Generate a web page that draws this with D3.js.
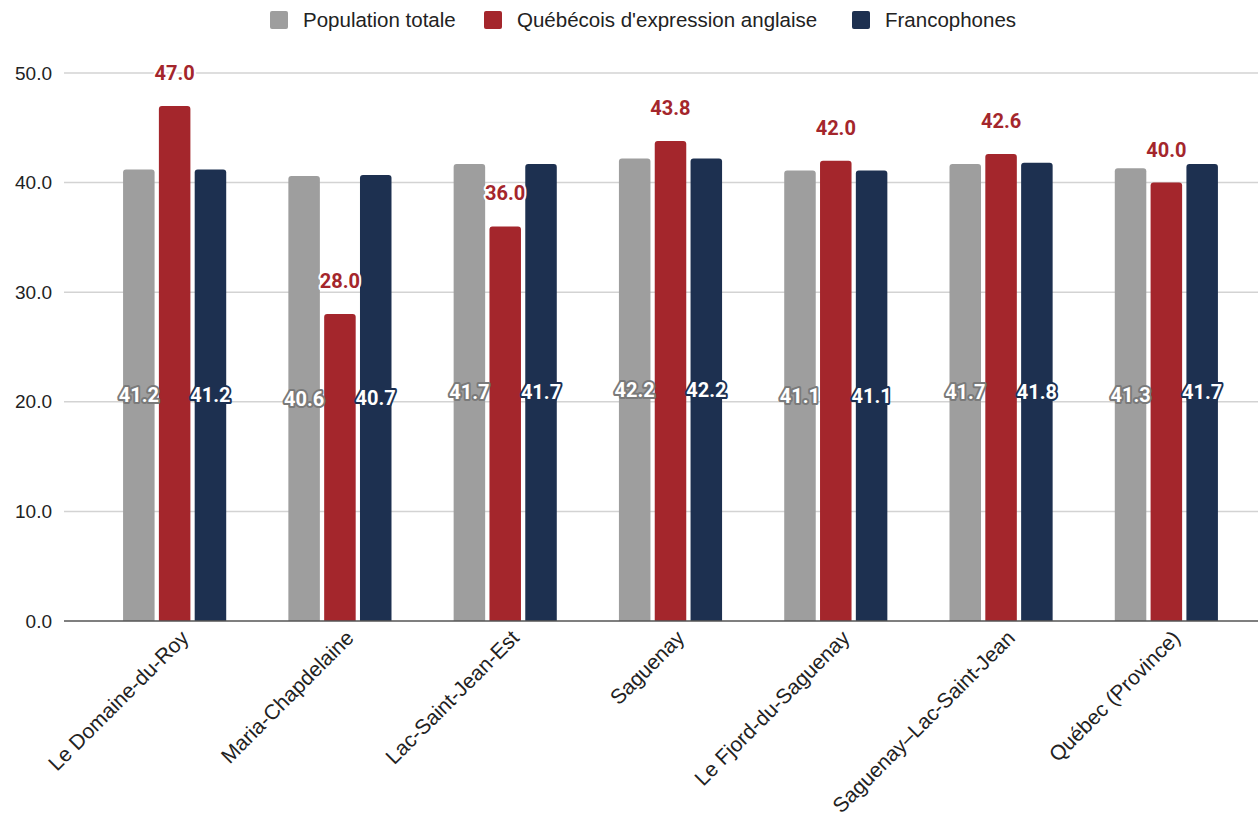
<!DOCTYPE html>
<html><head><meta charset="utf-8">
<script src="https://cdn.jsdelivr.net/npm/d3@7"></script>
<style>body{margin:0;background:#fff}svg{display:block}</style>
</head><body>
<svg id="c" width="1258" height="816"></svg>
<script>
const categories = ["Le Domaine-du-Roy","Maria-Chapdelaine","Lac-Saint-Jean-Est","Saguenay","Le Fjord-du-Saguenay","Saguenay–Lac-Saint-Jean","Québec (Province)"];
const seriesNames = ["Population totale","Québécois d'expression anglaise","Francophones"];
const populationTotale = [41.2,40.6,41.7,42.2,41.1,41.7,41.3];
const anglophones = [47.0,28.0,36.0,43.8,42.0,42.6,40.0];
const francophones = [41.2,40.7,41.7,42.2,41.1,41.8,41.7];
const yTicks = [0,10,20,30,40,50];
const colors = ["#9e9e9e","#a4262c","#1d3050"];

const series = [populationTotale, anglophones, francophones];
const svg = d3.select("#c");
const font = "'Liberation Sans', Arial, sans-serif";
const lblFont = "Roboto, sans-serif";
const y = d3.scaleLinear().domain([0,50]).range([621,73]);
const x0 = d3.scaleBand().domain(categories).range([92,1249]).paddingInner(0.376).paddingOuter(0.188);
const x1 = d3.scaleBand().domain(d3.range(3)).range([0,x0.bandwidth()]).paddingInner(0.12);

// grid
svg.append("g").selectAll("line").data(yTicks.filter(d=>d>0)).join("line")
  .attr("x1",64).attr("x2",1258).attr("y1",d=>y(d)).attr("y2",d=>y(d))
  .attr("stroke","#d3d3d3").attr("stroke-width",1.5);
const yAxis = svg.append("g").attr("transform","translate(64,0)")
  .call(d3.axisLeft(y).tickValues(yTicks).tickFormat(d3.format(".1f")).tickSize(0).tickPadding(12));
yAxis.select(".domain").remove();
yAxis.attr("font-family",null).attr("font-size",null);
yAxis.selectAll("text").style("font-family",font).style("font-size","19px").attr("fill","#222");

// bars
const groups = svg.append("g").selectAll("g").data(categories).join("g")
  .attr("transform",d=>`translate(${x0(d)},0)`);
function topRounded(x,yt,w,h,r){
  r=Math.min(r,h);
  return `M${x},${yt+h}V${yt+r}Q${x},${yt} ${x+r},${yt}H${x+w-r}Q${x+w},${yt} ${x+w},${yt+r}V${yt+h}Z`;
}
groups.each(function(cat,ci){
  const g=d3.select(this);
  series.forEach((s,si)=>{
    const v=s[ci];
    g.append("path").attr("d",topRounded(x1(si),y(v),x1.bandwidth(),y(0)-y(v),3)).attr("fill",colors[si]);
  });
});
// axis line
svg.append("line").attr("x1",64).attr("x2",1258).attr("y1",y(0)).attr("y2",y(0)).attr("stroke","#555").attr("stroke-width",1.5);

// labels
const haloCol=["#7a7a7a",null,"#1d3050"];
groups.each(function(cat,ci){
  const g=d3.select(this);
  [0,2].forEach(si=>{
    const v=series[si][ci];
    const cx=x1(si)+x1.bandwidth()/2, cy=(y(v)+y(0))/2+7;
    g.append("text").attr("x",cx).attr("y",cy)
      .attr("text-anchor","middle").style("font-family",lblFont).style("font-weight","bold")
      .style("font-size","20px").attr("stroke",haloCol[si]).attr("stroke-width",4).attr("stroke-linejoin","round")
      .attr("fill","none").text(v.toFixed(1));
    g.append("text").attr("x",cx).attr("y",cy)
      .attr("text-anchor","middle").style("font-family",lblFont).style("font-weight","bold")
      .style("font-size","20px").attr("fill","#fff").text(v.toFixed(1));
  });
  const v=anglophones[ci];
  const lx=x1(1)+x1.bandwidth()/2, ly=y(v)-26;
  g.append("text").attr("x",lx).attr("y",ly).attr("text-anchor","middle").style("font-family",lblFont)
    .style("font-weight","bold").style("font-size","20px").attr("stroke","#fff").attr("stroke-width",4)
    .attr("stroke-linejoin","round").attr("fill","none").text(v.toFixed(1));
  g.append("text").attr("x",lx).attr("y",ly).attr("text-anchor","middle").style("font-family",lblFont)
    .style("font-weight","bold").style("font-size","20px").attr("fill",colors[1]).text(v.toFixed(1));
});

// x labels
svg.append("g").selectAll("text").data(categories).join("text")
  .attr("transform",d=>`translate(${x0(d)+x0.bandwidth()/2+10},${y(0)+13}) rotate(-45)`)
  .attr("text-anchor","end").style("font-family",font).style("font-size","21px").attr("fill","#222")
  .attr("dy","0.35em").text(d=>d);

// legend
const legendX=[270,484,852];
const lg=svg.append("g").selectAll("g").data(seriesNames).join("g").attr("transform",(d,i)=>`translate(${legendX[i]},11)`);
lg.append("rect").attr("width",18).attr("height",18).attr("rx",2).attr("fill",(d,i)=>colors[i]);
lg.append("text").attr("x",33).attr("y",16).style("font-family",font).style("font-size","20.5px").attr("fill","#222").text(d=>d);
</script>
</body></html>
